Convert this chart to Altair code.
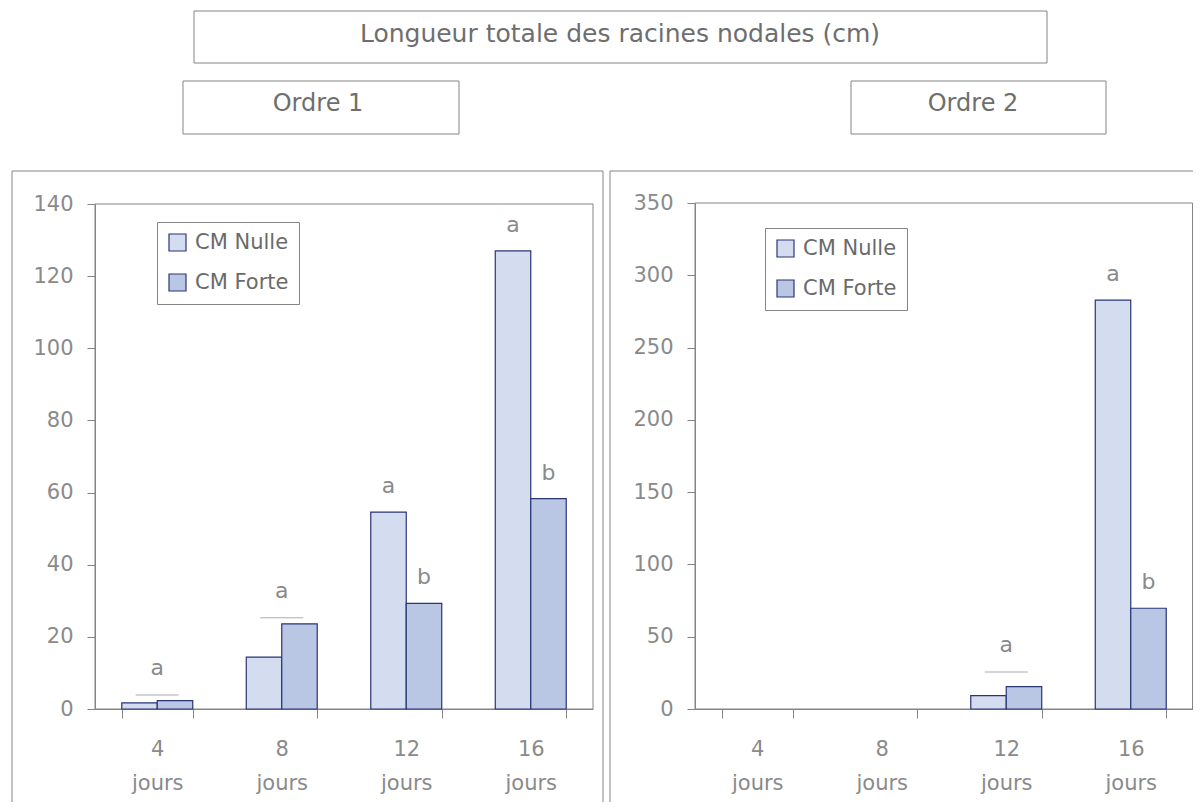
import altair as alt
import pandas as pd

# ---------------- data ----------------
JOURS = ["4 jours", "8 jours", "12 jours", "16 jours"]
SERIES = ["CM Nulle", "CM Forte"]

ORDRE1_NULLE = [1.7, 14.4, 54.6, 127.0]
ORDRE1_FORTE = [2.3, 23.6, 29.3, 58.3]
ORDRE2_NULLE = [0.0, 0.0, 9.3, 282.8]
ORDRE2_FORTE = [0.0, 0.0, 15.5, 69.7]

# significance bars shared by both treatments
ORDRE1_PAIR_JOURS = ["4 jours", "8 jours"]
ORDRE1_PAIR_VALUES = [3.9, 25.3]
ORDRE1_PAIR_LETTERS = ["a", "a"]
ORDRE2_PAIR_JOURS = ["12 jours"]
ORDRE2_PAIR_VALUES = [25.6]
ORDRE2_PAIR_LETTERS = ["a"]

# letters above individual bars
ORDRE1_LETTERS_NULLE = [None, None, "a", "a"]
ORDRE1_LETTERS_FORTE = [None, None, "b", "b"]
ORDRE2_LETTERS_NULLE = [None, None, None, "a"]
ORDRE2_LETTERS_FORTE = [None, None, None, "b"]

Y1_TICKS = [0, 20, 40, 60, 80, 100, 120, 140]
Y2_TICKS = [0, 50, 100, 150, 200, 250, 300, 350]

TITLE = "Longueur totale des racines nodales (cm)"
PANEL_TITLES = ["Ordre 1", "Ordre 2"]

# ---------------- style / layout ----------------
FONT = "DejaVu Sans"
C_NULLE = "#d4ddef"
C_FORTE = "#b9c6e4"
C_EDGE = "#2a3575"
C_FRAME = "#858585"
C_TEXT = "#8a8a8a"

W, H = 1182, 792          # whole canvas
AXIS_Y = 699              # pixel row of the x axes


def deco_rect(x0, x1, y0, y1, clip=False):
    return alt.Chart(pd.DataFrame({"k": [0]})).mark_rect(
        filled=False, stroke=C_FRAME, strokeWidth=1, clip=clip
    ).encode(x=alt.value(x0), x2=alt.value(x1), y=alt.value(y0), y2=alt.value(y1))


def deco_text(txt, xc, yc, size):
    return alt.Chart(pd.DataFrame({"k": [0]})).mark_text(
        text=txt, fontSize=size, color="#6e6e6e", align="center", baseline="middle"
    ).encode(x=alt.value(xc), y=alt.value(yc))


def make_panel(nulle, forte, pair_j, pair_v, pair_l, let_n, let_f, yticks,
               x_range, y_top, legend_xy, outer_box):
    bars = pd.DataFrame({
        "jour": JOURS * 2,
        "serie": [SERIES[0]] * 4 + [SERIES[1]] * 4,
        "value": nulle + forte,
        "lettre": let_n + let_f,
    })
    bars_pos = bars[bars["value"] > 0]
    letters = bars[bars["lettre"].notna()]
    pairs = pd.DataFrame({"jour": pair_j, "value": pair_v, "lettre": pair_l})

    x = alt.X(
        "jour:N", sort=JOURS,
        scale=alt.Scale(domain=JOURS, range=list(x_range),
                        paddingInner=0.43, paddingOuter=0.215),
        axis=alt.Axis(title=None, orient="bottom", offset=AXIS_Y - H,
                      labelAngle=0, labelExpr="split(datum.label, ' ')",
                      tickBand="extent", tickSize=9, labelPadding=20,
                      labelFontSize=21, labelLineHeight=34,
                      labelColor=C_TEXT, domainColor=C_FRAME,
                      tickColor=C_FRAME, grid=False),
    )
    y = alt.Y(
        "value:Q",
        scale=alt.Scale(domain=[0, yticks[-1]], range=[AXIS_Y, y_top],
                        nice=False, zero=True),
        axis=alt.Axis(title=None, orient="left", offset=-x_range[0],
                      values=yticks, tickSize=8, labelPadding=14,
                      labelFontSize=21, labelColor=C_TEXT,
                      domainColor=C_FRAME, tickColor=C_FRAME, grid=False),
    )
    xo = alt.XOffset("serie:N", sort=SERIES, scale=alt.Scale(domain=SERIES))

    outer = deco_rect(*outer_box, clip=True)
    frame = deco_rect(x_range[0], min(x_range[1], W - 0.5), y_top, AXIS_Y)

    bar_layer = alt.Chart(bars_pos).mark_bar(
        stroke=C_EDGE, strokeWidth=1.2
    ).encode(
        x=x, y=y, xOffset=xo,
        color=alt.Color(
            "serie:N",
            scale=alt.Scale(domain=SERIES, range=[C_NULLE, C_FORTE]),
            legend=alt.Legend(
                title=None, orient="none",
                legendX=legend_xy[0], legendY=legend_xy[1],
                symbolType="square", symbolSize=289,
                symbolStrokeColor=C_EDGE, symbolStrokeWidth=1.2,
                symbolOpacity=1,
                labelFontSize=21, labelColor="#6a6a6a", labelOffset=7,
                rowPadding=17, padding=10,
                strokeColor=C_FRAME, fillColor="white",
            ),
        ),
    )

    pair_tick = alt.Chart(pairs).mark_tick(
        size=43, thickness=1, color="#8a8a8a"
    ).encode(x=x, y=y)

    pair_text = alt.Chart(pairs).mark_text(
        dy=-20, fontSize=22, color=C_TEXT, baseline="alphabetic"
    ).encode(x=x, y=y, text="lettre:N")

    bar_text = alt.Chart(letters).mark_text(
        dy=-19, fontSize=22, color=C_TEXT, baseline="alphabetic"
    ).encode(x=x, xOffset=xo, y=y, text="lettre:N")

    return alt.layer(outer, frame, bar_layer, pair_tick, pair_text, bar_text)


p1 = make_panel(ORDRE1_NULLE, ORDRE1_FORTE, ORDRE1_PAIR_JOURS,
                ORDRE1_PAIR_VALUES, ORDRE1_PAIR_LETTERS,
                ORDRE1_LETTERS_NULLE, ORDRE1_LETTERS_FORTE, Y1_TICKS,
                (84, 582), 194, (146, 212), (1, 592, 161, 820))
p2 = make_panel(ORDRE2_NULLE, ORDRE2_FORTE, ORDRE2_PAIR_JOURS,
                ORDRE2_PAIR_VALUES, ORDRE2_PAIR_LETTERS,
                ORDRE2_LETTERS_NULLE, ORDRE2_LETTERS_FORTE, Y2_TICKS,
                (684, 1182), 193, (754, 218), (599, 1220, 161, 820))

header = alt.layer(
    deco_rect(183, 1036, 1, 53), deco_text(TITLE, 609, 24, 25),
    deco_rect(172, 448, 71, 124), deco_text(PANEL_TITLES[0], 307, 94, 24),
    deco_rect(840, 1095, 71, 124), deco_text(PANEL_TITLES[1], 962, 94, 24),
)

chart = alt.layer(header, p1, p2).resolve_scale(
    x="independent", y="independent", xOffset="independent", color="independent"
).resolve_axis(
    x="independent", y="independent"
).resolve_legend(
    color="independent"
).properties(
    width=W, height=H,
    padding={"left": 3, "top": 2, "right": 0, "bottom": 0},
    view=alt.ViewBackground(stroke="transparent"),
).configure(font=FONT)

chart.save("out.html", embed_options={"renderer": "svg", "actions": False})
